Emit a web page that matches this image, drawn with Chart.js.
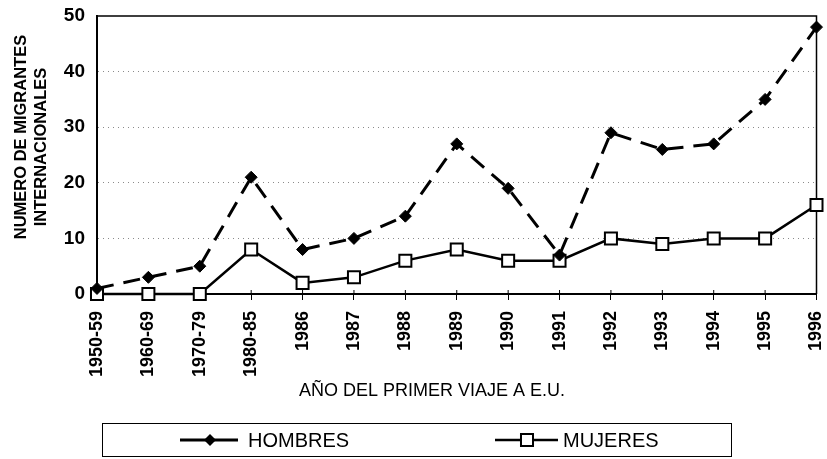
<!DOCTYPE html>
<html><head><meta charset="utf-8">
<script src="https://cdn.jsdelivr.net/npm/chart.js@4/dist/chart.umd.min.js"></script>
<style>html,body{margin:0;padding:0;background:#fff}#wrap{width:827px;height:459px;position:relative}</style>
</head><body><div id="wrap"><canvas id="c" width="827" height="459"></canvas></div>
<script>
const categories = ['1950-59','1960-69','1970-79','1980-85','1986','1987','1988','1989','1990','1991','1992','1993','1994','1995','1996'];
const hombres = [1,3,5,21,8,10,14,27,19,7,29,26,27,35,48];
const mujeres = [0,0,0,8,2,3,6,8,6,6,10,9,10,10,16];
const yTicks = [0,10,20,30,40,50];
const seriesNames = ['HOMBRES','MUJERES'];
const yTitleLines = ['NUMERO DE MIGRANTES','INTERNACIONALES'];
const xTitle = 'AÑO DEL PRIMER VIAJE A E.U.';

const FONT = '"Liberation Sans", Arial, sans-serif';

function drawMarker(ctx, style, x, y, r) {
  ctx.save();
  ctx.beginPath();
  if (style === 'rectRot') {
    ctx.moveTo(x, y - r); ctx.lineTo(x + r, y); ctx.lineTo(x, y + r); ctx.lineTo(x - r, y); ctx.closePath();
    ctx.fillStyle = '#000'; ctx.fill();
  } else {
    const s = r * Math.SQRT1_2;
    ctx.rect(x - s, y - s, 2 * s, 2 * s);
    ctx.fillStyle = '#fff'; ctx.fill();
    ctx.lineWidth = 2; ctx.strokeStyle = '#000'; ctx.stroke();
  }
  ctx.restore();
}

const decor = {
  id: 'decor',
  beforeDatasetsDraw(chart) {
    const {ctx, chartArea: a} = chart;
    ctx.save();
    ctx.strokeStyle = '#000';
    ctx.lineWidth = 1.5;
    ctx.beginPath();
    ctx.moveTo(a.left, a.top); ctx.lineTo(a.right, a.top); ctx.lineTo(a.right, a.bottom);
    ctx.stroke();
    const xs = chart.scales.x;
    ctx.lineWidth = 1;
    categories.forEach((c, i) => {
      const x = xs.getPixelForValue(i);
      ctx.beginPath(); ctx.moveTo(x, a.bottom - 4); ctx.lineTo(x, a.bottom); ctx.stroke();
    });
    ctx.restore();
  },
  afterDraw(chart) {
    const {ctx} = chart;
    ctx.save();
    ctx.fillStyle = '#000';
    ctx.font = 'bold 16.5px ' + FONT;
    ctx.textAlign = 'center'; ctx.textBaseline = 'middle';
    const yPos = [[21, 137], [41, 147]];
    yTitleLines.forEach((t, i) => {
      ctx.save();
      ctx.translate(yPos[i][0], yPos[i][1]);
      ctx.rotate(-Math.PI / 2);
      ctx.fillText(t, 0, 0);
      ctx.restore();
    });
    ctx.font = '18px ' + FONT;
    ctx.fillText(xTitle, 432, 391);
    ctx.strokeStyle = '#000'; ctx.lineWidth = 1;
    ctx.strokeRect(102.5, 423.5, 629, 33);
    const items = [
      {x0: 180, x1: 238, mx: 210, tx: 248},
      {x0: 495, x1: 558, mx: 527, tx: 563}
    ];
    const ly = 440;
    ctx.font = '20px ' + FONT;
    ctx.textAlign = 'left';
    chart.data.datasets.forEach((ds, i) => {
      const it = items[i];
      ctx.save();
      ctx.strokeStyle = '#000'; ctx.lineWidth = i === 0 ? 3 : 2.5;
      ctx.beginPath(); ctx.moveTo(it.x0, ly); ctx.lineTo(it.x1, ly); ctx.stroke();
      ctx.restore();
      drawMarker(ctx, ds.pointStyle, it.mx, ly, i === 0 ? 6 : 8.5);
      ctx.fillStyle = '#000';
      ctx.fillText(ds.label, it.tx, ly + 1);
    });
    ctx.restore();
  }
};

new Chart(document.getElementById('c'), {
  type: 'line',
  data: {
    labels: categories,
    datasets: [
      {
        label: seriesNames[0], data: hombres, clip: false,
        borderColor: '#000', borderWidth: 3, borderDash: [17, 10],
        pointStyle: 'rectRot', pointRadius: 6, pointBackgroundColor: '#000', pointBorderColor: '#000', pointBorderWidth: 1,
        tension: 0, fill: false
      },
      {
        label: seriesNames[1], data: mujeres, clip: false,
        borderColor: '#000', borderWidth: 2.5,
        pointStyle: 'rect', pointRadius: 8.5, pointBackgroundColor: '#fff', pointBorderColor: '#000', pointBorderWidth: 2,
        tension: 0, fill: false
      }
    ]
  },
  options: {
    responsive: false,
    animation: false,
    devicePixelRatio: 1,
    layout: {padding: {top: 16, right: 6, left: 0, bottom: 0}},
    plugins: {legend: {display: false}, tooltip: {enabled: false}},
    scales: {
      x: {
        type: 'category',
        offset: false,
        afterFit(scale) { scale.height = 165; scale.paddingLeft = 0; scale.paddingRight = 0; },
        grid: {drawOnChartArea: false, drawTicks: true, tickLength: 6, color: '#000', lineWidth: 1},
        border: {display: true, color: '#000', width: 2},
        ticks: {
          autoSkip: false, minRotation: 90, maxRotation: 90, padding: 11,
          color: '#000', font: {family: FONT, size: 18, weight: 'bold'}
        }
      },
      y: {
        min: 0, max: 50,
        afterFit(scale) { scale.width = 97; scale.paddingTop = 0; scale.paddingBottom = 0; },
        afterBuildTicks(scale) { scale.ticks = yTicks.map(v => ({value: v})); },
        grid: {
          drawTicks: false,
          color: (c) => (c.tick && (c.tick.value === 0 || c.tick.value === 50)) ? 'rgba(0,0,0,0)' : '#8a8a8a',
          lineWidth: 1
        },
        border: {display: true, color: '#000', width: 2, dash: (c) => c.tick ? [1, 4] : []},
        ticks: {padding: 12, color: '#000', font: {family: FONT, size: 19, weight: 'bold'}}
      }
    }
  },
  plugins: [decor]
});
</script>
</body></html>
